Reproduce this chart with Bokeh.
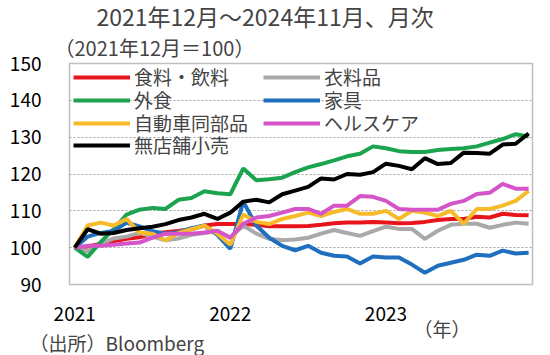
from bokeh.plotting import figure
from bokeh.models import Range1d, Legend, LegendItem, FixedTicker, Title
from bokeh.embed import file_html
from bokeh.resources import INLINE

months = list(range(36))  # 2021-12 .. 2024-11
food = [100, 100.3, 101, 101.7, 102.4, 102.8, 103.7, 104.2, 104.5, 105, 106, 106.4,
        106.4, 106.4, 106.2, 105.8, 105.8, 105.8, 105.9, 106.2, 106.6, 106.8, 106.8, 107,
        106.8, 106.6, 106.7, 107, 107.5, 107.8, 107.8, 108.4, 108.2, 109.2, 108.9, 108.8]
clothing = [100, 99, 101, 102.5, 103, 104, 103, 102, 102.5, 103.5, 104, 104.5,
            102.7, 106, 103.8, 102.4, 102, 102.2, 102.7, 103.8, 104.8, 104, 103.2, 104.5,
            105.7, 105.1, 105.1, 102.4, 104.6, 106.2, 106.5, 106.5, 105.4, 106.2, 106.8, 106.5]
dining = [100, 97.5, 101.5, 105, 109, 110.3, 110.8, 110.5, 113, 113.5, 115.3, 114.8,
          114.5, 121.5, 118.3, 118.6, 119, 120.5, 121.8, 122.7, 123.7, 124.8, 125.5, 127.5,
          127, 126.2, 126, 126, 126.5, 126.8, 127, 127.5, 128.5, 129.5, 130.8, 130.2]
furniture = [100, 103, 104, 104.5, 106.8, 105.8, 104.5, 103.8, 104.2, 105.3, 106, 103.5,
             99.7, 112.5, 106, 102.7, 100.5, 99.3, 100.5, 98.6, 97.8, 97.6, 95.7, 97.6,
             97.3, 97.3, 95.4, 93.2, 95.1, 95.9, 96.7, 98.1, 97.8, 99.2, 98.4, 98.6]
auto = [100, 106, 106.8, 106, 107.8, 104.1, 103.8, 102, 104, 105, 106, 103.8,
        100.8, 109, 107, 106.4, 107.8, 108.6, 109.5, 108.6, 109.7, 110.5, 109.2, 109.2,
        110, 107.8, 110, 109.5, 108.6, 110, 106.5, 110.5, 110.5, 111.4, 112.7, 115.4]
health = [100, 100.5, 100.5, 100.8, 101.1, 101.4, 102.7, 103.8, 103.8, 103.8, 104.1, 104.6,
          102.7, 106.5, 108.2, 108.6, 109.5, 110.5, 110.5, 109.2, 111.4, 111.4, 114, 113.8,
          112.7, 110.5, 110.3, 110.3, 110.3, 111.9, 112.7, 114.6, 114.9, 117.3, 116, 116]
nonstore = [100, 105, 103.8, 104, 104.8, 105.3, 105.7, 106.4, 107.5, 108.2, 109.2, 107.8,
            109.5, 112.5, 113, 112.3, 114.5, 115.5, 116.5, 118.8, 118.5, 120, 119.8, 120.5,
            122.8, 122.2, 121.3, 124.3, 122.7, 123, 125.8, 125.7, 125.5, 128, 128.2, 131]

names = ["食料・飲料", "衣料品", "外食", "家具", "自動車同部品", "ヘルスケア", "無店舗小売"]
series = [food, clothing, dining, furniture, auto, health, nonstore]
colors = ["#e8141b", "#a9a9a9", "#1ba34f", "#1f6fbe", "#f7bb2a", "#d555c8", "#000000"]

x_ticks = [0, 12, 24]
x_tick_labels = ["2021", "2022", "2023"]
y_ticks = [90, 100, 110, 120, 130, 140, 150]

FONT = "Noto Sans CJK JP"

p = figure(width=550, height=355, output_backend="svg", toolbar_location=None,
           x_range=Range1d(-0.4, 35.3), y_range=Range1d(90, 150),
           min_border_left=69, min_border_right=18, min_border_top=62, min_border_bottom=71)
p.background_fill_color = "white"
p.border_fill_color = "white"
p.outline_line_color = "#bfbfbf"
p.outline_line_width = 1.5

p.xgrid.grid_line_color = None
p.ygrid.grid_line_color = "#a0a0a0"
p.ygrid.grid_line_dash = "2 2"
p.ygrid.grid_line_width = 1

p.yaxis.ticker = FixedTicker(ticks=y_ticks)
p.xaxis.ticker = FixedTicker(ticks=x_ticks)
p.xaxis.major_label_overrides = {t: l for t, l in zip(x_ticks, x_tick_labels)}
for ax in (p.xaxis[0], p.yaxis[0]):
    ax.axis_line_color = None
    ax.major_tick_line_color = None
    ax.minor_tick_line_color = None
    ax.major_label_text_font = FONT
    ax.major_label_text_font_size = "19px"
    ax.major_label_text_color = "#000000"
p.yaxis.major_label_standoff = 22
p.xaxis.major_label_standoff = 16

renderers = []
for vals, c in zip(series, colors):
    r = p.line(months, vals, line_color=c, line_width=4)
    renderers.append(r)

# legend: two columns, each entry placed individually
FRAME_H = 284 - 62
ITEM_H = 24
col_x = [4, 194]
row_off = [16, 39, 62, 84]  # row centre, px below frame top
order = [(0, 0), (1, 0), (0, 1), (1, 1), (0, 2), (1, 2), (0, 3)]  # (col, row) per series
for (col, row), n, r in zip(order, names, renderers):
    lg = Legend(items=[LegendItem(label=n, renderers=[r])],
                location=(col_x[col], FRAME_H - row_off[row] - ITEM_H / 2))
    lg.label_text_font = FONT
    lg.label_text_font_size = "19px"
    lg.glyph_width = 57
    lg.glyph_height = 20
    lg.label_height = 20
    lg.label_standoff = 4
    lg.spacing = 0
    lg.padding = 0
    lg.margin = 0
    lg.background_fill_alpha = 0
    lg.border_line_alpha = 0
    p.add_layout(lg)

# titles above (first added sits nearest the frame)
sub = Title(text="（2021年12月＝100）", align="left", offset=-15, standoff=4,
            text_font=FONT, text_font_size="20px", text_font_style="normal")
main = Title(text="2021年12月～2024年11月、月次", align="left", offset=27, standoff=-8,
             text_font=FONT, text_font_size="23px", text_font_style="normal")
p.add_layout(sub, "above")
p.add_layout(main, "above")

unit = Title(text="（年）", align="left", offset=344, standoff=-19, vertical_align="middle",
             text_font=FONT, text_font_size="19px", text_font_style="normal")
src = Title(text="（出所）Bloomberg", align="left", offset=-40, standoff=-12, vertical_align="middle",
            text_font=FONT, text_font_size="19px", text_font_style="normal")
p.add_layout(unit, "below")
p.add_layout(src, "below")

open("out.html", "w").write(file_html(p, INLINE))
